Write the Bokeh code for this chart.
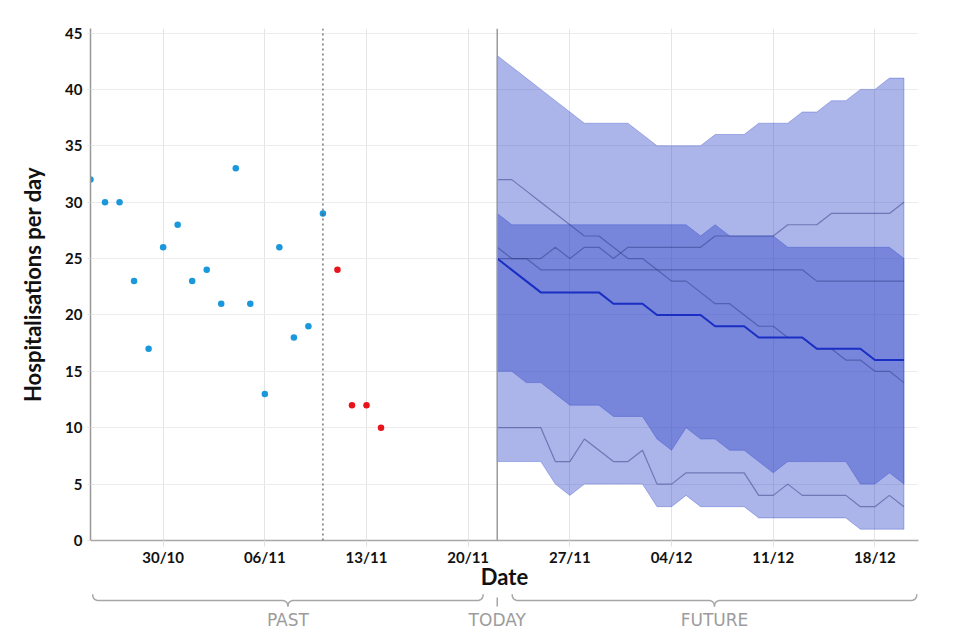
import numpy as np
import pandas as pd
from bokeh.plotting import figure
from bokeh.layouts import column
from bokeh.models import Range1d, Span, FixedTicker, DatetimeTickFormatter
from bokeh.embed import file_html
from bokeh.resources import INLINE
from bokeh.core.properties import value

# ---------------- data ----------------
observed_dates = ["2020-10-25", "2020-10-26", "2020-10-27", "2020-10-28", "2020-10-29",
                  "2020-10-30", "2020-10-31", "2020-11-01", "2020-11-02", "2020-11-03",
                  "2020-11-04", "2020-11-05", "2020-11-06", "2020-11-07", "2020-11-08",
                  "2020-11-09", "2020-11-10"]
observed_values = [32, 30, 30, 23, 17, 26, 28, 23, 24, 21, 33, 21, 13, 26, 18, 19, 29]

recent_dates = ["2020-11-11", "2020-11-12", "2020-11-13", "2020-11-14"]
recent_values = [24, 12, 12, 10]

cutoff_date = "2020-11-10"
today_date = "2020-11-22"
axis_start = "2020-10-25"
axis_end = "2020-12-21"

forecast_start = "2020-11-22"
forecast_days = 29
outer_upper = [43, 42, 41, 40, 39, 38, 37, 37, 37, 37, 36, 35, 35, 35, 35,
               36, 36, 36, 37, 37, 37, 38, 38, 39, 39, 40, 40, 41, 41]
inner_upper = [29, 28, 28, 28, 28, 28, 28, 28, 28, 28, 28, 28, 28, 28, 27,
               28, 27, 27, 27, 27, 26, 26, 26, 26, 26, 26, 26, 26, 25]
median = [25, 24, 23, 22, 22, 22, 22, 22, 21, 21, 21, 20, 20, 20, 20,
          19, 19, 19, 18, 18, 18, 18, 17, 17, 17, 17, 16, 16, 16]
inner_lower = [15, 15, 14, 14, 13, 12, 12, 12, 11, 11, 11, 9, 8, 10, 9,
               9, 8, 8, 7, 6, 7, 7, 7, 7, 7, 5, 5, 6, 5]
outer_lower = [7, 7, 7, 7, 5, 4, 5, 5, 5, 5, 5, 3, 3, 4, 3,
               3, 3, 3, 2, 2, 2, 2, 2, 2, 2, 1, 1, 1, 1]
traj_a = [32, 32, 31, 30, 29, 28, 27, 27, 26, 25, 25, 24, 23, 23, 22,
          21, 21, 20, 19, 19, 18, 18, 17, 17, 16, 16, 15, 15, 14]
traj_b = [26, 25, 25, 25, 26, 25, 26, 26, 25, 26, 26, 26, 26, 26, 26,
          27, 27, 27, 27, 27, 28, 28, 28, 29, 29, 29, 29, 29, 30]
traj_c = [25, 25, 25, 24, 24, 24, 24, 24, 24, 24, 24, 24, 24, 24, 24,
          24, 24, 24, 24, 24, 24, 24, 23, 23, 23, 23, 23, 23, 23]
traj_d = [10, 10, 10, 10, 7, 7, 9, 8, 7, 7, 8, 5, 5, 6, 6,
          6, 6, 6, 4, 4, 5, 4, 4, 4, 4, 3, 3, 4, 3]

tick_dates = ["2020-10-30", "2020-11-06", "2020-11-13", "2020-11-20",
              "2020-11-27", "2020-12-04", "2020-12-11", "2020-12-18"]
y_ticks = [0, 5, 10, 15, 20, 25, 30, 35, 40, 45]
section_labels = ["PAST", "TODAY", "FUTURE"]

# ---------------- helpers ----------------
DAY = 86400000.0


def ms(d):
    return pd.Timestamp(d).value / 1e6


FONT = "Lato"
fx = np.array([ms(d) for d in pd.date_range(forecast_start, periods=forecast_days, freq="D")])

x_range = Range1d(ms(axis_start), ms(axis_end))

W = 950
LEFT = 90
RIGHT = 32

# ---------------- main figure ----------------
p = figure(width=W, height=593, x_range=x_range, y_range=Range1d(0, 45.4),
           x_axis_type="datetime", output_backend="svg", toolbar_location=None,
           min_border_left=LEFT, min_border_right=RIGHT, min_border_top=28, min_border_bottom=53)
p.outline_line_color = None
p.background_fill_color = "white"
p.border_fill_color = "white"

band_color = "#1d37c2"
band_alpha = 0.37
p.patch(np.concatenate([fx, fx[::-1]]),
        np.concatenate([outer_lower, outer_upper[::-1]]),
        fill_color=band_color, fill_alpha=band_alpha,
        line_color=band_color, line_alpha=0.3, line_width=1)
p.patch(np.concatenate([fx, fx[::-1]]),
        np.concatenate([inner_lower, inner_upper[::-1]]),
        fill_color=band_color, fill_alpha=band_alpha,
        line_color=band_color, line_alpha=0.3, line_width=1)

for tr in (traj_a, traj_b, traj_c, traj_d):
    p.line(fx, tr, line_color="#2e3c86", line_alpha=0.5, line_width=1.2)

p.line(fx, median, line_color="#1a2ec4", line_width=2)

p.scatter([ms(d) for d in observed_dates], observed_values, size=6.5,
          fill_color="#1a98dc", line_color=None)
p.scatter([ms(d) for d in recent_dates], recent_values, size=6.5,
          fill_color="#e8141c", line_color=None)

p.add_layout(Span(location=ms(cutoff_date), dimension="height",
                  line_color="#555555", line_dash="2 3", line_width=1.2))
p.add_layout(Span(location=ms(today_date), dimension="height",
                  line_color="#9a9a9a", line_width=1.5))

# axes
fmt = "%d/%m"
p.xaxis.ticker = FixedTicker(ticks=[ms(d) for d in tick_dates])
p.xaxis.formatter = DatetimeTickFormatter(days=fmt, months=fmt, hours=fmt, years=fmt,
                                          minutes=fmt, seconds=fmt, milliseconds=fmt)
p.yaxis.ticker = FixedTicker(ticks=y_ticks)

for ax in (p.xaxis, p.yaxis):
    ax.major_label_text_font = FONT
    ax.major_label_text_font_style = "bold"
    ax.major_label_text_font_size = "15px"
    ax.major_label_text_color = "#111111"
    ax.axis_label_text_font = FONT
    ax.axis_label_text_font_style = "bold"
    ax.axis_label_text_font_size = "22px"
    ax.axis_label_text_color = "#111111"
    ax.minor_tick_line_color = None
    ax.major_tick_in = 0
    ax.major_tick_line_color = "#e2e2e2"

p.xaxis.axis_label = "Date"
p.xaxis.axis_line_color = "#a8a8a8"
p.xaxis.axis_line_width = 1.5
p.xaxis.major_tick_out = 6
p.xaxis.major_label_standoff = 1
p.xaxis.axis_label_standoff = -6

p.yaxis.axis_label = "Hospitalisations per day"
p.yaxis.axis_line_color = "#999999"
p.yaxis.axis_line_width = 1.5
p.yaxis.major_tick_out = 3
p.yaxis.major_label_standoff = 5
p.yaxis.axis_label_standoff = 16

p.xgrid.grid_line_color = "#e4e4e4"
p.ygrid.grid_line_color = "#ececec"
p.xgrid.grid_line_width = 1
p.ygrid.grid_line_width = 1

# ---------------- section braces ----------------
BH = 40
b = figure(width=W, height=BH, x_range=x_range, y_range=Range1d(BH, 0),
           output_backend="svg", toolbar_location=None,
           x_axis_location=None, y_axis_location=None,
           min_border_left=LEFT, min_border_right=RIGHT, min_border_top=0, min_border_bottom=0)
b.outline_line_color = None
b.grid.grid_line_color = None
b.background_fill_color = "white"
b.border_fill_color = "white"


def quad(p0, c, p1, n=10):
    t = np.linspace(0, 1, n)
    xs = (1 - t) ** 2 * p0[0] + 2 * (1 - t) * t * c[0] + t ** 2 * p1[0]
    ys = (1 - t) ** 2 * p0[1] + 2 * (1 - t) * t * c[1] + t ** 2 * p1[1]
    return list(xs), list(ys)


def brace(x0, x1, y_tip=0.8, y_line=7, y_stem=13, r=0.45 * DAY):
    xm = (x0 + x1) / 2
    halves = []
    for xe, s in ((x0, 1), (x1, -1)):
        ax_, ay_ = quad((xe, y_tip), (xe, y_line), (xe + s * r, y_line))
        bx_, by_ = quad((xm - s * r, y_line), (xm, y_line), (xm, y_stem))
        halves.append((ax_ + bx_, ay_ + by_))
    return xm, halves


t0 = ms(today_date)
past_mid, past_br = brace(ms(observed_dates[0]) + 0.15 * DAY, t0 - 0.97 * DAY)
fut_mid, fut_br = brace(t0 + 1.03 * DAY, ms(axis_end) - 0.12 * DAY)
xs = [h[0] for h in past_br + fut_br] + [[t0, t0]]
ys = [h[1] for h in past_br + fut_br] + [[4, 13]]
b.multi_line(xs, ys, line_color="#a6a6a6", line_width=1.5)

b.text(x=[past_mid, t0, fut_mid], y=[26, 26, 26], text=section_labels,
       text_align="center", text_baseline="middle",
       text_font=value("DejaVu Sans"), text_font_size="17px", text_color="#9c9c9c")

layout = column(p, b, spacing=0)
open("out.html", "w").write(file_html(layout, INLINE))
